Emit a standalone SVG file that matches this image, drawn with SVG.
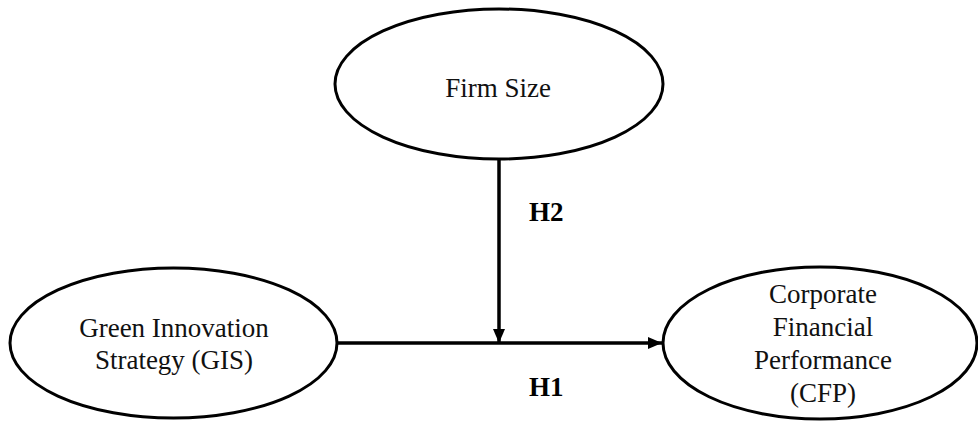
<svg xmlns="http://www.w3.org/2000/svg" width="978" height="423" viewBox="0 0 978 423">
  <style>
    .node { fill: #fff; stroke: #000; stroke-width: 3; }
    .label { font-family: "Liberation Serif", "Times New Roman", serif; font-size: 27px; fill: #111; text-anchor: middle; }
    .hyp { font-family: "Liberation Serif", "Times New Roman", serif; font-size: 27px; font-weight: bold; fill: #000; }
    .edge { stroke: #000; stroke-width: 3.5; fill: none; }
  </style>
  <defs>
    <marker id="arrow" markerUnits="userSpaceOnUse" markerWidth="14" markerHeight="14" viewBox="0 0 14 14" refX="14" refY="7" orient="auto">
      <path d="M0,1 L14,7 L0,13 Z" fill="#000"/>
    </marker>
  </defs>
  <rect width="978" height="423" fill="#fff"/>

  <g id="connectors">
    <line class="edge" x1="337" y1="343" x2="662" y2="343" marker-end="url(#arrow)"/>
    <line class="edge" x1="499" y1="159" x2="499" y2="343" marker-end="url(#arrow)"/>
    <text class="hyp" x="529" y="221">H2</text>
    <text class="hyp" x="529" y="396">H1</text>
  </g>

  <g id="firm-size">
    <ellipse class="node" cx="499" cy="84" rx="164" ry="75"/>
    <text class="label" x="498" y="97">Firm Size</text>
  </g>

  <g id="gis">
    <ellipse class="node" cx="173.5" cy="343" rx="163.5" ry="75"/>
    <text class="label" x="174" y="337">Green Innovation</text>
    <text class="label" x="174" y="369">Strategy (GIS)</text>
  </g>

  <g id="cfp">
    <ellipse class="node" cx="820" cy="343" rx="157" ry="76"/>
    <text class="label" x="823" y="303">Corporate</text>
    <text class="label" x="823" y="336">Financial</text>
    <text class="label" x="823" y="369">Performance</text>
    <text class="label" x="823" y="402">(CFP)</text>
  </g>
</svg>
